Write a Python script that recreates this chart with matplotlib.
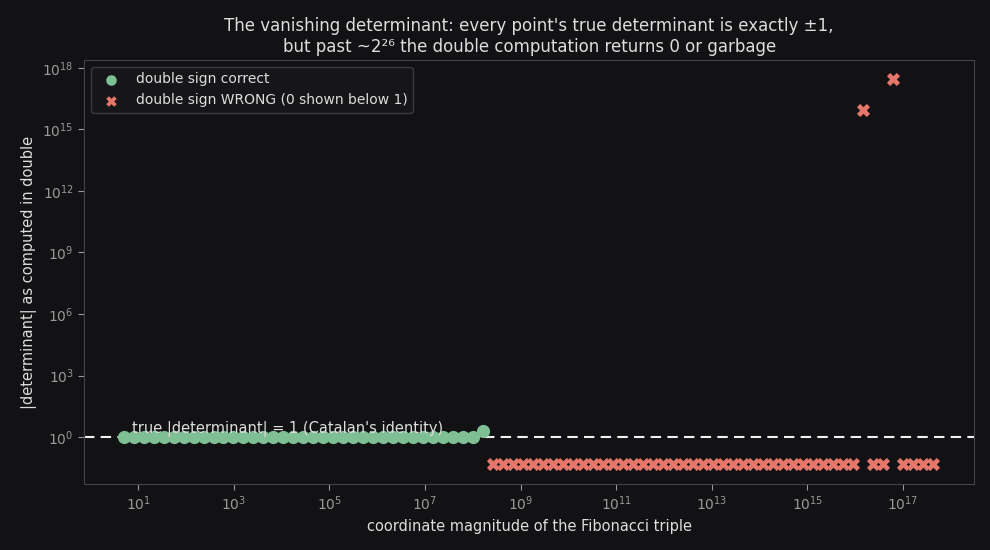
"""
Vanishing determinant: double precision sign of Catalan's identity
"""
import matplotlib
matplotlib.use("Agg")
import matplotlib.pyplot as plt
import matplotlib.ticker as mticker

# Fibonacci indices of the triples, and the |det| the double computation gave
# (0 results are drawn at ZERO_SHOWN, below 1)
OK_INDEX = list(range(5, 42))
OK_DET = [1.0] * 36 + [2.0]
BAD_INDEX = list(range(42, 87))
BAD_DET = [0.0] * 37 + [9e15, 0.0, 0.0, 2.9e17, 0.0, 0.0, 0.0, 0.0]
ZERO_SHOWN = 0.048


def fib(n):
    """n-th Fibonacci number (coordinate magnitude of the triple)"""
    a, b = 0, 1
    for _ in range(n):
        a, b = b, a + b
    return a


BG = "#121214"
GREEN = "#7fbf94"
RED = "#e5766a"
TXT = "#dddddd"

fig = plt.figure(figsize=(9.9, 5.5), dpi=100, facecolor=BG)
ax = fig.add_axes([0.085, 0.12, 0.899, 0.771], facecolor=BG)

ok_x = [fib(n) for n in OK_INDEX]
bad_x = [fib(n) for n in BAD_INDEX]
bad_y = [d if d > 0 else ZERO_SHOWN for d in BAD_DET]

ax.scatter(ok_x, OK_DET, s=90, color=GREEN, marker="o", linewidths=0,
           label="double sign correct", zorder=3)
ax.scatter(bad_x, bad_y, s=90, color=RED, marker="X", linewidths=0,
           label="double sign WRONG (0 shown below 1)", zorder=3)

ax.axhline(1.0, color="#f0f0f0", linestyle=(0, (5, 3)), linewidth=1.5, zorder=2)
ax.text(7.5, 1.05, "true |determinant| = 1 (Catalan's identity)",
        color=TXT, fontsize=10.5, va="bottom", zorder=4)

ax.set_xscale("log")
ax.set_yscale("log")
ax.set_xlim(10 ** -0.13, 10 ** 18.49)
ax.set_ylim(10 ** -2.29, 10 ** 18.39)
ax.xaxis.set_major_locator(mticker.FixedLocator([10.0 ** k for k in range(1, 18, 2)]))
ax.yaxis.set_major_locator(mticker.FixedLocator([10.0 ** k for k in range(0, 19, 3)]))
ax.xaxis.set_minor_locator(mticker.NullLocator())
ax.yaxis.set_minor_locator(mticker.NullLocator())
ax.tick_params(colors="#999999", labelsize=10, length=4)
for spine in ax.spines.values():
    spine.set_color("#444448")

ax.set_xlabel("coordinate magnitude of the Fibonacci triple", color=TXT, fontsize=10.5)
ax.set_ylabel("|determinant| as computed in double", color=TXT, fontsize=10.5)
ax.set_title("The vanishing determinant: every point's true determinant is exactly \u00b11,\n"
             "but past ~2\u00b2\u2076 the double computation returns 0 or garbage",
             color=TXT, fontsize=12)

leg = ax.legend(loc="upper left", facecolor="#18181b", edgecolor="#444448",
                fontsize=10, markerscale=0.8)
for t in leg.get_texts():
    t.set_color(TXT)

fig.savefig("out.png", facecolor=BG)
